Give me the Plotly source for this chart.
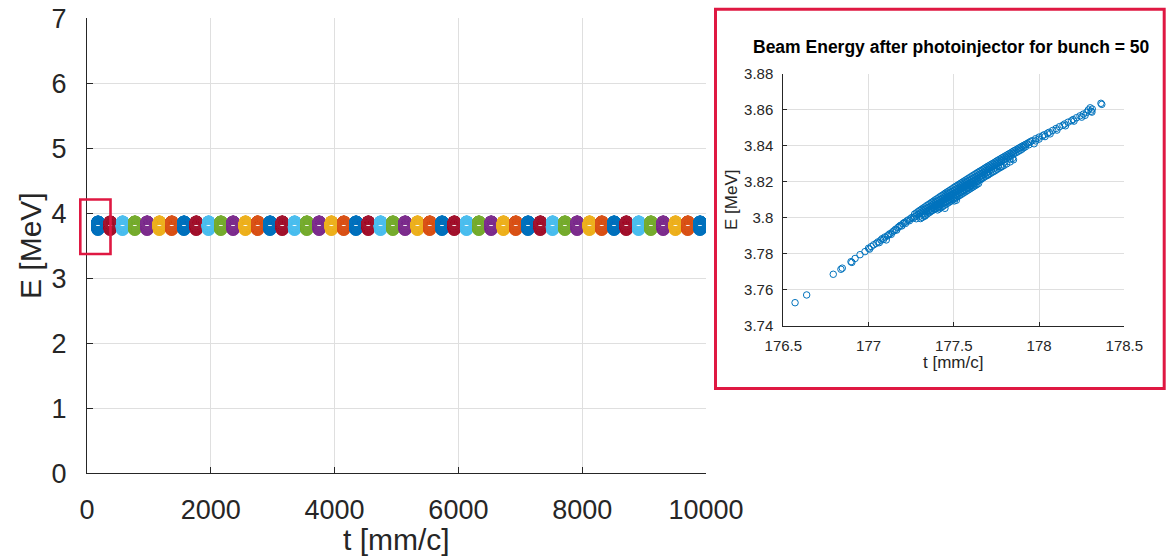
import plotly.graph_objects as go

# ---------------------------------------------------------------------------
# Data
# ---------------------------------------------------------------------------
# Particle distribution of bunch 50 after the photoinjector: (t [mm/c], E [MeV])
bunch50_particles = [
    # low-energy head of the bunch (sparse)
    (176.569, 3.7528), (176.637, 3.7571), (176.793, 3.7686), (176.838, 3.7714),
    (176.846, 3.7720), (176.897, 3.7756), (176.902, 3.7752), (176.921, 3.7774),
    (176.950, 3.7795), (176.979, 3.7812), (177.000, 3.7831), (177.006, 3.7826),
    (177.016, 3.7840),
    # 177.0 - 177.26
    (177.030, 3.7850), (177.045, 3.7858), (177.055, 3.7866), (177.063, 3.7862),
    (177.072, 3.7876), (177.080, 3.7884), (177.088, 3.7880), (177.095, 3.7893),
    (177.104, 3.7877), (177.110, 3.7899), (177.118, 3.7906), (177.126, 3.7912),
    (177.133, 3.7908), (177.141, 3.7922), (177.150, 3.7928), (177.158, 3.7936),
    (177.165, 3.7932), (177.172, 3.7946), (177.180, 3.7952), (177.187, 3.7958),
    (177.195, 3.7955), (177.202, 3.7968), (177.210, 3.7974), (177.217, 3.7969),
    (177.224, 3.7982), (177.232, 3.7988), (177.240, 3.7984), (177.247, 3.7996),
    (177.254, 3.8002), (177.262, 3.7998),
    # dense core of the bunch
    (177.27, 3.8021), (177.27, 3.8005),
    (177.28, 3.8027), (177.28, 3.8011), (177.28, 3.7995),
    (177.29, 3.8034), (177.29, 3.8018),
    (177.30, 3.8041), (177.30, 3.8025), (177.30, 3.8009),
    (177.31, 3.8047), (177.31, 3.8031),
    (177.32, 3.8054), (177.32, 3.8038), (177.32, 3.8022),
    (177.33, 3.8060), (177.33, 3.8044), (177.331, 3.8010),
    (177.34, 3.8067), (177.34, 3.8051), (177.34, 3.8035),
    (177.35, 3.8073), (177.35, 3.8057), (177.35, 3.8041),
    (177.36, 3.8079), (177.36, 3.8063), (177.36, 3.8047),
    (177.37, 3.8086), (177.37, 3.8070), (177.37, 3.8054), (177.37, 3.8040),
    (177.38, 3.8092), (177.38, 3.8076), (177.38, 3.8060),
    (177.39, 3.8099), (177.39, 3.8083), (177.39, 3.8067), (177.39, 3.8050),
    (177.40, 3.8105), (177.40, 3.8089), (177.40, 3.8073),
    (177.41, 3.8111), (177.41, 3.8095), (177.41, 3.8079), (177.41, 3.8060),
    (177.42, 3.8118), (177.42, 3.8102), (177.42, 3.8086), (177.42, 3.8072),
    (177.43, 3.8124), (177.43, 3.8108), (177.43, 3.8092),
    (177.44, 3.8130), (177.44, 3.8114), (177.44, 3.8098), (177.44, 3.8080),
    (177.45, 3.8137), (177.45, 3.8121), (177.45, 3.8105), (177.448, 3.8053),
    (177.46, 3.8143), (177.46, 3.8127), (177.46, 3.8111), (177.46, 3.8090),
    (177.47, 3.8149), (177.47, 3.8133), (177.47, 3.8117),
    (177.48, 3.8155), (177.48, 3.8139), (177.48, 3.8123), (177.48, 3.8100),
    (177.49, 3.8161), (177.49, 3.8145), (177.49, 3.8129),
    (177.50, 3.8168), (177.50, 3.8152), (177.50, 3.8136), (177.50, 3.8112),
    (177.503, 3.8094), (177.515, 3.8098),
    (177.51, 3.8174), (177.51, 3.8158), (177.51, 3.8142),
    (177.52, 3.8180), (177.52, 3.8164), (177.52, 3.8148), (177.52, 3.8125),
    (177.53, 3.8186), (177.53, 3.8170), (177.53, 3.8154),
    (177.54, 3.8192), (177.54, 3.8176), (177.54, 3.8160), (177.54, 3.8140),
    (177.55, 3.8198), (177.55, 3.8182), (177.55, 3.8166),
    (177.56, 3.8204), (177.56, 3.8188), (177.56, 3.8172), (177.56, 3.8150),
    (177.57, 3.8210), (177.57, 3.8194), (177.57, 3.8178),
    (177.58, 3.8216), (177.58, 3.8200), (177.58, 3.8184), (177.58, 3.8165),
    (177.59, 3.8222), (177.59, 3.8206), (177.59, 3.8190),
    (177.60, 3.8228), (177.60, 3.8212), (177.60, 3.8196), (177.60, 3.8178),
    (177.61, 3.8234), (177.61, 3.8218), (177.61, 3.8202),
    (177.62, 3.8240), (177.62, 3.8224), (177.62, 3.8208), (177.62, 3.8190),
    (177.63, 3.8246), (177.63, 3.8230), (177.63, 3.8214),
    (177.64, 3.8252), (177.64, 3.8236), (177.64, 3.8220), (177.64, 3.8203),
    (177.65, 3.8258), (177.65, 3.8242), (177.65, 3.8226),
    (177.66, 3.8263), (177.66, 3.8247), (177.66, 3.8231), (177.66, 3.8214),
    (177.67, 3.8269), (177.67, 3.8253), (177.67, 3.8237),
    (177.68, 3.8275), (177.68, 3.8259), (177.68, 3.8243),
    (177.69, 3.8281), (177.69, 3.8265), (177.69, 3.8249),
    (177.70, 3.8287), (177.70, 3.8271), (177.70, 3.8255), (177.70, 3.8238),
    (177.71, 3.8292), (177.71, 3.8276),
    (177.72, 3.8298), (177.72, 3.8282), (177.72, 3.8266),
    (177.73, 3.8303), (177.73, 3.8287),
    (177.74, 3.8309), (177.74, 3.8293), (177.74, 3.8277),
    (177.75, 3.8315), (177.75, 3.8299),
    (177.76, 3.8321), (177.76, 3.8305), (177.76, 3.8289),
    (177.77, 3.8326), (177.77, 3.8310),
    (177.78, 3.8332), (177.78, 3.8316), (177.777, 3.8284),
    (177.79, 3.8337), (177.79, 3.8321),
    (177.80, 3.8343), (177.80, 3.8327), (177.80, 3.8311),
    (177.81, 3.8348), (177.81, 3.8332),
    (177.82, 3.8354), (177.82, 3.8338),
    (177.83, 3.8359), (177.83, 3.8343), (177.83, 3.8327),
    (177.84, 3.8365), (177.84, 3.8349),
    (177.85, 3.8371), (177.85, 3.8355), (177.845, 3.8331),
    (177.86, 3.8376), (177.86, 3.8360),
    (177.87, 3.8381), (177.87, 3.8365),
    (177.88, 3.8387), (177.88, 3.8371),
    (177.89, 3.8392), (177.89, 3.8376),
    (177.90, 3.8398), (177.90, 3.8382),
    (177.91, 3.8403), (177.91, 3.8390),
    (177.92, 3.8408), (177.92, 3.8395),
    (177.93, 3.8413),
    (177.94, 3.8419), (177.94, 3.8406),
    (177.95, 3.8424),
    (177.96, 3.8429), (177.971, 3.8412),
    (177.98, 3.8440), (177.98, 3.8428),
    (178.00, 3.8449), (178.00, 3.8438),
    # lower (low-energy) side of the dense core
    (177.305, 3.7996), (177.315, 3.8002), (177.325, 3.8009), (177.335, 3.8015),
    (177.345, 3.8022), (177.355, 3.8028), (177.365, 3.8035), (177.375, 3.8041),
    (177.385, 3.8048), (177.395, 3.8054),
    (177.405, 3.8060), (177.405, 3.8044), (177.415, 3.8066), (177.415, 3.8050),
    (177.425, 3.8073), (177.425, 3.8057), (177.435, 3.8079), (177.435, 3.8063),
    (177.445, 3.8086), (177.445, 3.8070), (177.455, 3.8092), (177.455, 3.8076),
    (177.465, 3.8098), (177.465, 3.8082), (177.475, 3.8104), (177.475, 3.8088),
    (177.485, 3.8110), (177.485, 3.8094), (177.495, 3.8117), (177.495, 3.8101),
    (177.505, 3.8123), (177.505, 3.8107), (177.515, 3.8129), (177.515, 3.8113),
    (177.525, 3.8135), (177.525, 3.8119), (177.535, 3.8141), (177.535, 3.8125),
    (177.545, 3.8147), (177.545, 3.8131), (177.555, 3.8153), (177.555, 3.8137),
    (177.565, 3.8159), (177.565, 3.8143), (177.575, 3.8165), (177.575, 3.8149),
    (177.585, 3.8171), (177.585, 3.8155), (177.595, 3.8177), (177.595, 3.8161),
    (177.605, 3.8183), (177.605, 3.8167), (177.615, 3.8189), (177.615, 3.8173),
    (177.625, 3.8195), (177.625, 3.8179), (177.635, 3.8201), (177.635, 3.8185),
    (177.645, 3.8207), (177.645, 3.8191),
    (177.655, 3.8213), (177.665, 3.8218), (177.675, 3.8224), (177.685, 3.8230),
    (177.695, 3.8236), (177.705, 3.8242), (177.715, 3.8247), (177.725, 3.8253),
    (177.735, 3.8258), (177.745, 3.8264), (177.755, 3.8270), (177.765, 3.8276),
    (177.775, 3.8281), (177.785, 3.8287), (177.795, 3.8292), (177.810, 3.8300),
    (177.830, 3.8311), (177.850, 3.8323),
    # high-energy tail of the bunch
    (178.02, 3.8456), (178.03, 3.8462), (178.035, 3.8452), (178.05, 3.8471),
    (178.06, 3.8476), (178.065, 3.8467), (178.08, 3.8486), (178.10, 3.8497),
    (178.105, 3.8488), (178.12, 3.8507), (178.14, 3.8515), (178.15, 3.8522),
    (178.155, 3.8512), (178.17, 3.8532), (178.19, 3.8540), (178.20, 3.8547),
    (178.205, 3.8538), (178.22, 3.8557), (178.24, 3.8567), (178.25, 3.8560),
    (178.26, 3.8577), (178.27, 3.8570), (178.28, 3.8587), (178.289, 3.8600),
    (178.30, 3.8612), (178.305, 3.8593), (178.31, 3.8588), (178.312, 3.8605),
    (178.363, 3.8637), (178.368, 3.8631),
]
bunch50_t = [p[0] for p in bunch50_particles]
bunch50_E = [p[1] for p in bunch50_particles]

# Bunch numbers along the line, from the smallest t (bunch 50) to the largest (bunch 1)
bunch_number = list(range(50, 0, -1))
# Mean longitudinal position of each bunch [mm/c], same order as bunch_number
bunch_t_centre = [
    178, 376, 575, 773, 972, 1170, 1369, 1567, 1766, 1964,
    2163, 2361, 2560, 2758, 2957, 3155, 3354, 3552, 3751, 3949,
    4148, 4346, 4545, 4743, 4942, 5140, 5339, 5537, 5736, 5934,
    6133, 6331, 6530, 6728, 6927, 7125, 7324, 7522, 7721, 7919,
    8118, 8316, 8515, 8713, 8912, 9110, 9309, 9507, 9706, 9904,
]

# MATLAB default colour order (bunch n uses colour (n-1) mod 7)
line_colours = ["#0072BD", "#D95319", "#EDB120", "#7E2F8E",
                "#77AC30", "#4DBEEE", "#A2142F"]

main_xticks = [0, 2000, 4000, 6000, 8000, 10000]
main_xtick_text = ["0", "2000", "4000", "6000", "8000", "10000"]
main_yticks = [0, 1, 2, 3, 4, 5, 6, 7]
main_ytick_text = ["0", "1", "2", "3", "4", "5", "6", "7"]
inset_xticks = [176.5, 177, 177.5, 178, 178.5]
inset_xtick_text = ["176.5", "177", "177.5", "178", "178.5"]
inset_yticks = [3.74, 3.76, 3.78, 3.80, 3.82, 3.84, 3.86, 3.88]
inset_ytick_text = ["3.74", "3.76", "3.78", "3.8", "3.82", "3.84", "3.86", "3.88"]

# ---------------------------------------------------------------------------
# Figure
# ---------------------------------------------------------------------------
W, H = 1172, 558
FONT = "Liberation Sans, Arial, Helvetica, sans-serif"
INK = "#262626"
GRID = "#DFDFDF"
FRAME_RED = "#DF1842"


def px(x):
    return x / W


def py(y):
    return 1 - y / H


fig = go.Figure()

# all 50 bunches along the beamline
t_ref = bunch_t_centre[0]
for n, tc in zip(bunch_number, bunch_t_centre):
    shift = tc - t_ref
    fig.add_trace(go.Scatter(
        x=[t + shift for t in bunch50_t],
        y=bunch50_E,
        mode="markers",
        marker=dict(symbol="circle-open", size=11,
                    color=line_colours[(n - 1) % 7],
                    line=dict(width=2.3)),
        name=f"bunch {n}",
        xaxis="x", yaxis="y",
        showlegend=False,
        hoverinfo="skip",
    ))

# zoom on bunch 50
fig.add_trace(go.Scatter(
    x=bunch50_t, y=bunch50_E,
    mode="markers",
    marker=dict(symbol="circle-open", size=6.5, color="#0072BD",
                line=dict(width=1)),
    xaxis="x2", yaxis="y2",
    showlegend=False,
))

axis_common = dict(
    showline=True, linecolor=INK, linewidth=1,
    ticks="inside", tickcolor=INK, tickwidth=1,
    showgrid=True, gridcolor=GRID, gridwidth=1,
    zeroline=False, mirror=False, automargin=False,
)

fig.update_layout(
    width=W, height=H,
    margin=dict(l=0, r=0, t=0, b=0, autoexpand=False),
    paper_bgcolor="white", plot_bgcolor="white",
    font=dict(family=FONT, color=INK),
    xaxis=dict(
        axis_common, domain=[px(87), px(706)], range=[0, 10000],
        tickvals=main_xticks, ticktext=main_xtick_text, ticklen=6,
        tickfont=dict(size=27, color=INK), ticklabelstandoff=12,
        anchor="y",
    ),
    yaxis=dict(
        axis_common, domain=[py(473.3), py(18.3)], range=[0, 7],
        tickvals=main_yticks, ticktext=main_ytick_text, ticklen=6,
        tickfont=dict(size=27, color=INK), ticklabelstandoff=14,
        anchor="x",
    ),
    xaxis2=dict(
        axis_common, domain=[px(783.3), px(1124.3)], range=[176.5, 178.5],
        tickvals=inset_xticks, ticktext=inset_xtick_text, ticklen=4,
        tickfont=dict(size=15, color=INK), ticklabelstandoff=6,
        anchor="y2",
    ),
    yaxis2=dict(
        axis_common, domain=[py(325.7), py(74)], range=[3.74, 3.88],
        tickvals=inset_yticks, ticktext=inset_ytick_text, ticklen=4,
        tickfont=dict(size=15, color=INK), ticklabelstandoff=6,
        anchor="x2",
    ),
)

annotations = [
    # main axis titles
    dict(text="t [mm/c]", x=px(396.5), y=py(539), font=dict(size=30, color=INK)),
    dict(text="E [MeV]", x=px(30), y=py(246), textangle=-90,
         font=dict(size=30, color=INK)),
    # inset title and axis titles
    dict(text="<b>Beam Energy after photoinjector for bunch = 50</b>",
         x=px(951), y=py(46.5), font=dict(size=17.5, color="#000000")),
    dict(text="t [mm/c]", x=px(953), y=py(362), font=dict(size=17, color=INK)),
    dict(text="E [MeV]", x=px(731), y=py(200), textangle=-90,
         font=dict(size=17, color=INK)),
]
for a in annotations:
    a.update(xref="paper", yref="paper", showarrow=False,
             xanchor="center", yanchor="middle")
fig.update_layout(annotations=annotations)

# red highlight around bunch 50 and frame around the zoomed view
fig.update_layout(shapes=[
    dict(type="rect", xref="paper", yref="paper",
         x0=px(80.3), x1=px(110.5), y0=py(254), y1=py(199.5),
         line=dict(color=FRAME_RED, width=2.6), fillcolor="rgba(0,0,0,0)",
         layer="above"),
    dict(type="rect", xref="paper", yref="paper",
         x0=px(715.5), x1=px(1164.2), y0=py(388.5), y1=py(9.3),
         line=dict(color=FRAME_RED, width=3), fillcolor="rgba(0,0,0,0)",
         layer="above"),
])

fig.write_html("out.html")
